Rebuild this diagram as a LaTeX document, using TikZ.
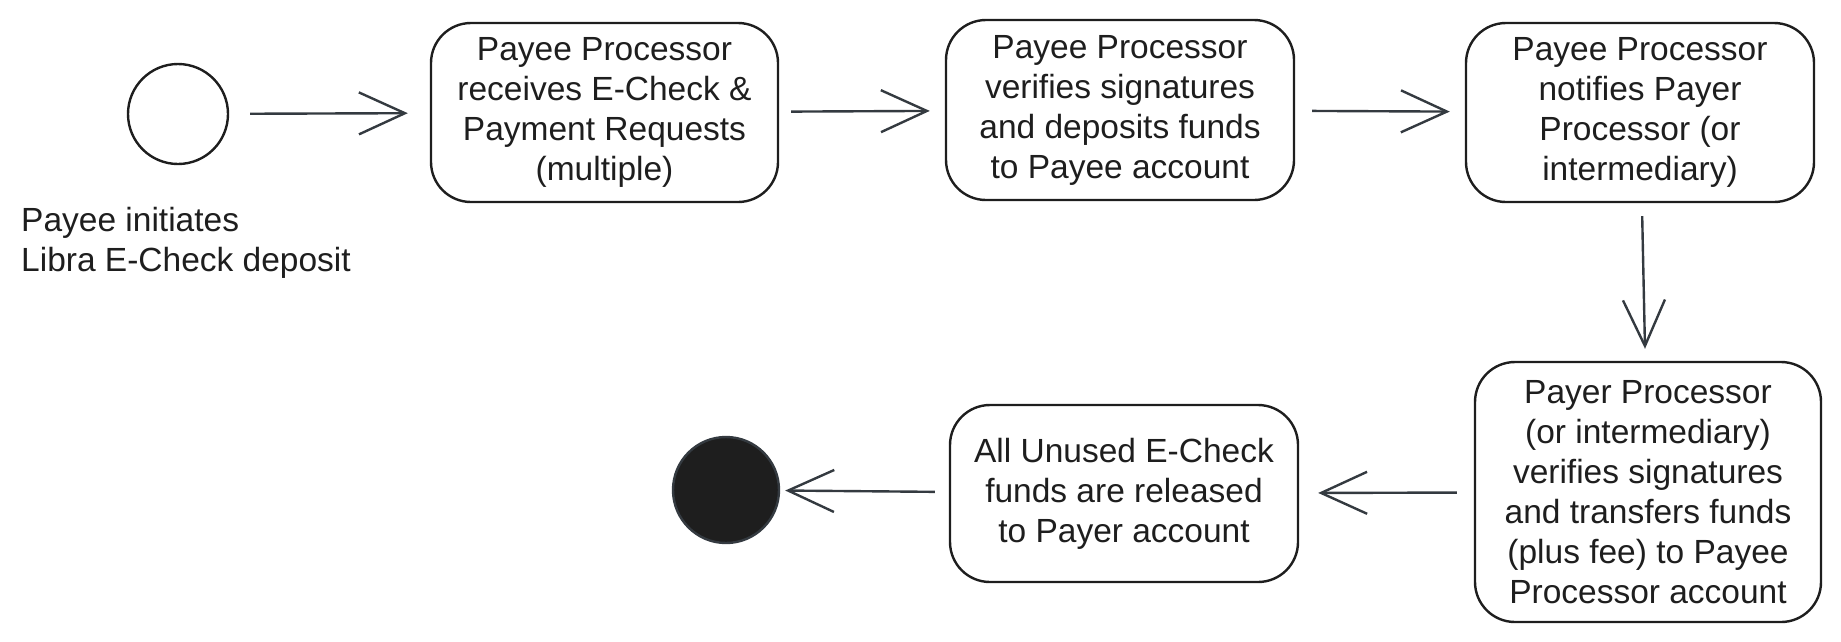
\documentclass[tikz,border=0pt]{standalone}
\usepackage{fontspec}
\setmainfont{Liberation Sans}
\usetikzlibrary{arrows.meta}
\definecolor{ink}{HTML}{1E1E1E}
\definecolor{arr}{HTML}{343A40}
\tikzset{
  actbox/.style={draw=ink, line width=2.4pt, rounded corners=40pt, align=center,
    text=ink, inner sep=0pt, font=\fontsize{33.5}{40}\selectfont},
  flow/.style={draw=arr, line width=2.4pt,
    -{Straight Barb[length=46pt, width=42pt, line width=2.4pt]}},
  startnode/.style={circle, draw=ink, line width=2.4pt, inner sep=0pt, minimum size=100pt},
  endnode/.style={circle, draw=arr, fill=ink, line width=2.4pt, inner sep=0pt, minimum size=106pt},
  lbl/.style={align=left, text=ink, inner sep=0pt, font=\fontsize{33.5}{40}\selectfont}
}
\begin{document}
\begin{tikzpicture}[x=1pt,y=-1pt]
\useasboundingbox (0,0) rectangle (1841,641);
\node[startnode] (start) at (178,114) {};
\node[lbl, anchor=west] (lab) at (21,243) {Payee initiates\\Libra E-Check deposit};
\node[actbox, minimum width=347pt, minimum height=179pt] (b1) at (604.5,112.5)
  {Payee Processor\\receives E-Check \&\\Payment Requests\\(multiple)};
\node[actbox, minimum width=348pt, minimum height=180pt] (b2) at (1120,110)
  {Payee Processor\\verifies signatures\\and deposits funds\\to Payee account};
\node[actbox, minimum width=348pt, minimum height=179pt] (b3) at (1640,112.5)
  {Payee Processor\\notifies Payer\\Processor (or\\intermediary)};
\node[actbox, minimum width=346pt, minimum height=260pt] (b4) at (1648,492)
  {Payer Processor\\(or intermediary)\\verifies signatures\\and transfers funds\\(plus fee) to Payee\\Processor account};
\node[actbox, minimum width=348pt, minimum height=177pt] (b5) at (1124,493.5)
  {All Unused E-Check\\funds are released\\to Payer account};
\node[endnode] (end) at (726,490) {};
\draw[flow, shorten <=21pt, shorten >=22pt] (start) -- (b1);
\draw[flow, shorten <=12pt, shorten >=15pt] (b1) -- (b2);
\draw[flow, shorten <=17pt, shorten >=15pt] (b2) -- (b3);
\draw[flow, shorten <=13pt, shorten >=12pt] (b3) -- (b4);
\draw[flow, shorten <=17pt, shorten >=19pt] (b4) -- (b5);
\draw[flow, shorten <=14pt, shorten >=5pt] (b5) -- (end);
\end{tikzpicture}
\end{document}
